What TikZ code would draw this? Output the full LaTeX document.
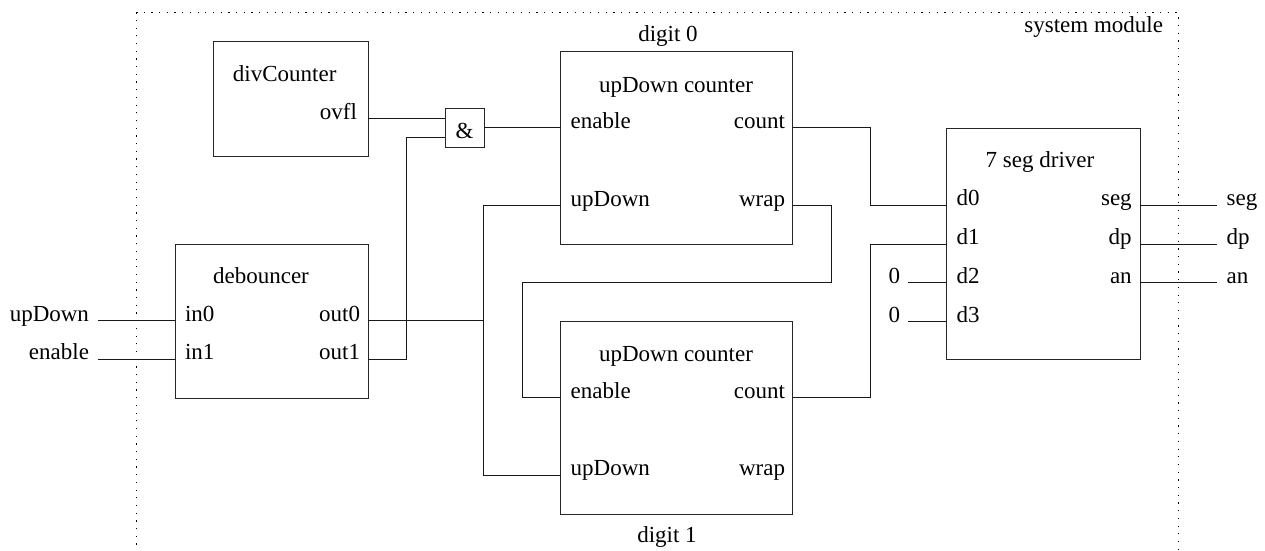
\documentclass[tikz,border=0pt]{standalone}
\usepackage{fontspec}
\setmainfont{Liberation Serif}
\begin{document}
\begin{tikzpicture}[x=1pt, y=-1pt,
  font=\fontsize{23}{27}\selectfont,
  blk/.style={draw=black!85, line width=0.9pt, inner sep=0pt, outer sep=0pt, anchor=north west},
  lbl/.style={inner sep=0pt, outer sep=0pt},
  wire/.style={draw=black!90, line width=0.9pt},
  frame/.style={draw=black, line width=1pt, dash pattern=on 1.2pt off 6.5pt}]
\useasboundingbox (0,0) rectangle (1265,550);

% enclosing module (open at the bottom)
\coordinate (fr-bl) at (136.7,560);
\coordinate (fr-tl) at (136.7,12.5);
\coordinate (fr-tr) at (1178.3,12.5);
\coordinate (fr-br) at (1178.3,560);
\draw[frame] (fr-bl) -- (fr-tl) -- (fr-tr) -- (fr-br);
\node[lbl, anchor=base east] (modname) at (1163,32) {system module};

% blocks
\node[blk, minimum width=154.7pt, minimum height=115pt]   (div) at (213.3,41.7) {};
\node[blk, minimum width=39pt,    minimum height=38.6pt]  (and) at (445,108.7) {};
\node[blk, minimum width=193.3pt, minimum height=154.3pt] (deb) at (175,244) {};
\node[blk, minimum width=232pt,   minimum height=192.3pt] (c0)  at (560.7,51.7) {};
\node[blk, minimum width=232pt,   minimum height=193pt]   (c1)  at (560.7,321) {};
\node[blk, minimum width=193.3pt, minimum height=231pt]   (drv) at (946.7,128.3) {};

% block titles
\node[lbl, anchor=base] (t-div) at (284.7,81)  {divCounter};
\node[lbl, anchor=base] (t-and) at (464.5,138) {\&};
\node[lbl, anchor=base] (t-deb) at (261,283.3) {debouncer};
\node[lbl, anchor=base] (t-c0)  at (676,92)    {upDown counter};
\node[lbl, anchor=base] (t-c1)  at (676,361)   {upDown counter};
\node[lbl, anchor=base] (t-drv) at (1040,167)  {7 seg driver};
\node[lbl, anchor=base] (n-d0)  at (668,41.7)  {digit 0};
\node[lbl, anchor=base] (n-d1)  at (667,542)   {digit 1};

% port labels
\node[lbl, anchor=base east] (l-ovfl) at (357,119)   {ovfl};
\node[lbl, anchor=base west] (l-in0)  at (185,321)   {in0};
\node[lbl, anchor=base west] (l-in1)  at (185,359.5) {in1};
\node[lbl, anchor=base east] (l-out0) at (360,321)   {out0};
\node[lbl, anchor=base east] (l-out1) at (360,359.5) {out1};
\node[lbl, anchor=base west] (l-c0en) at (570.7,128) {enable};
\node[lbl, anchor=base east] (l-c0ct) at (785,128)   {count};
\node[lbl, anchor=base west] (l-c0ud) at (570.7,206) {upDown};
\node[lbl, anchor=base east] (l-c0wr) at (785,206)   {wrap};
\node[lbl, anchor=base west] (l-c1en) at (570.7,398) {enable};
\node[lbl, anchor=base east] (l-c1ct) at (785,398)   {count};
\node[lbl, anchor=base west] (l-c1ud) at (570.7,475.5) {upDown};
\node[lbl, anchor=base east] (l-c1wr) at (785,475.5) {wrap};
\node[lbl, anchor=base west] (l-d0) at (956.7,205.5) {d0};
\node[lbl, anchor=base west] (l-d1) at (956.7,244.5) {d1};
\node[lbl, anchor=base west] (l-d2) at (956.7,283)   {d2};
\node[lbl, anchor=base west] (l-d3) at (956.7,322)   {d3};
\node[lbl, anchor=base east] (l-seg) at (1131.7,205.5) {seg};
\node[lbl, anchor=base east] (l-dp)  at (1131.7,244.5) {dp};
\node[lbl, anchor=base east] (l-an)  at (1131.7,283)   {an};

% external signals
\node[lbl, anchor=base east] (x-up)  at (89,321)      {upDown};
\node[lbl, anchor=base east] (x-en)  at (89,359.5)    {enable};
\node[lbl, anchor=base west] (x-seg) at (1226.7,205.5) {seg};
\node[lbl, anchor=base west] (x-dp)  at (1226.7,244.5) {dp};
\node[lbl, anchor=base west] (x-an)  at (1226.7,283)   {an};
\node[lbl, anchor=base] (z2) at (894.3,283) {0};
\node[lbl, anchor=base] (z3) at (894.3,322) {0};

% port coordinates
\coordinate (div-ovfl) at (368,118.3);
\coordinate (and-in1)  at (445,118.3);
\coordinate (and-in2)  at (445,137.7);
\coordinate (and-out)  at (484,127.7);
\coordinate (deb-in0)  at (175,320.7);
\coordinate (deb-in1)  at (175,359.3);
\coordinate (deb-out0) at (368.3,320.7);
\coordinate (deb-out1) at (368.3,359.3);
\coordinate (c0-en) at (560.7,127.7);
\coordinate (c0-ud) at (560.7,205.7);
\coordinate (c0-ct) at (792.7,127.7);
\coordinate (c0-wr) at (792.7,205.7);
\coordinate (c1-en) at (560.7,397.7);
\coordinate (c1-ud) at (560.7,475);
\coordinate (c1-ct) at (792.7,397.7);
\coordinate (drv-d0)  at (946.7,205);
\coordinate (drv-d1)  at (946.7,244.3);
\coordinate (drv-d2)  at (946.7,282.7);
\coordinate (drv-d3)  at (946.7,321.7);
\coordinate (drv-seg) at (1140,205);
\coordinate (drv-dp)  at (1140,244.3);
\coordinate (drv-an)  at (1140,282.7);

% free wire ends and bends
\coordinate (e-up)  at (98.3,320.7);
\coordinate (e-en)  at (98.3,359.3);
\coordinate (e-seg) at (1216.7,205);
\coordinate (e-dp)  at (1216.7,244.3);
\coordinate (e-an)  at (1216.7,282.7);
\coordinate (e-z2)  at (908.3,282.7);
\coordinate (e-z3)  at (908.3,321.7);
\coordinate (bend-a) at (406.7,359.3);
\coordinate (bus)    at (483.3,320.7);
\coordinate (wr-a)   at (831,282.7);
\coordinate (wr-b)   at (522.3,282.7);
\coordinate (cnt0)   at (870,160);
\coordinate (cnt1)   at (870,320);

% wiring
\draw[wire] (e-up) -- (deb-in0);
\draw[wire] (e-en) -- (deb-in1);
\draw[wire] (div-ovfl) -- (and-in1);
\draw[wire] (deb-out1) -- (bend-a) |- (and-in2);
\draw[wire] (and-out) -- (c0-en);
\draw[wire] (deb-out0) -- (bus);
\draw[wire] (c0-ud) -| (bus) |- (c1-ud);
\draw[wire] (c0-wr) -| (wr-a) -- (wr-b) |- (c1-en);
\draw[wire] (c0-ct) -| (cnt0) |- (drv-d0);
\draw[wire] (c1-ct) -| (cnt1) |- (drv-d1);
\draw[wire] (e-z2) -- (drv-d2);
\draw[wire] (e-z3) -- (drv-d3);
\draw[wire] (drv-seg) -- (e-seg);
\draw[wire] (drv-dp) -- (e-dp);
\draw[wire] (drv-an) -- (e-an);
\end{tikzpicture}
\end{document}
